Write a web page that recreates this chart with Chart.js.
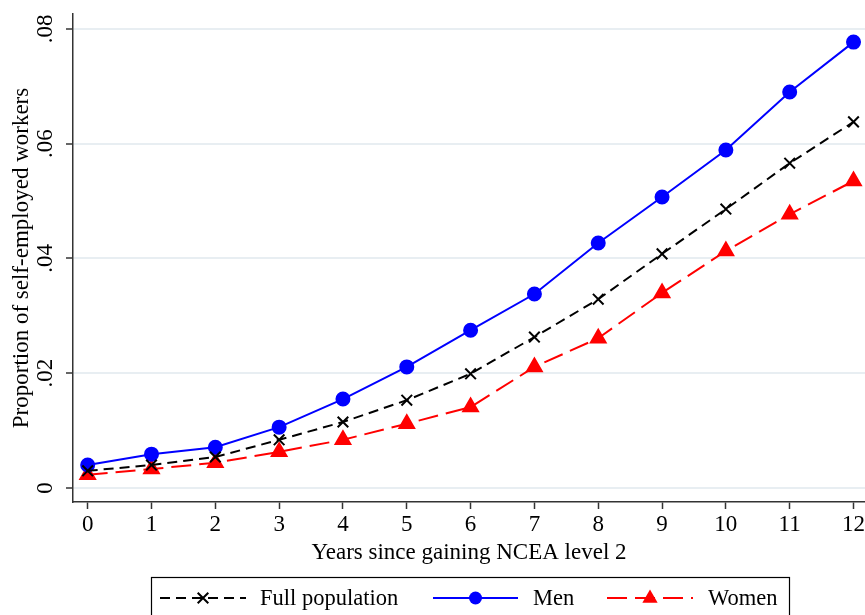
<!DOCTYPE html>
<html>
<head>
<meta charset="utf-8">
<script src="https://cdn.jsdelivr.net/npm/chart.js@4/dist/chart.umd.min.js"></script>
<style>
  body { margin: 0; background: #fff; }
  #wrap { width: 865px; height: 615px; }
</style>
</head>
<body>
<div id="wrap"><canvas id="chart" width="865" height="615"></canvas></div>
<script>
const years = [0, 1, 2, 3, 4, 5, 6, 7, 8, 9, 10, 11, 12];
const fullPop = [0.0030, 0.0040, 0.0054, 0.0084, 0.0115, 0.0153, 0.0199, 0.0263, 0.0329, 0.0408, 0.0486, 0.0566, 0.0638];
const men = [0.0040, 0.0059, 0.0071, 0.0106, 0.0155, 0.0211, 0.0275, 0.0338, 0.0427, 0.0507, 0.0589, 0.0690, 0.0777];
const women = [0.0023, 0.0033, 0.0044, 0.0063, 0.0084, 0.0112, 0.0141, 0.0211, 0.0261, 0.0340, 0.0413, 0.0477, 0.0535];
const yTicks = [0, 0.02, 0.04, 0.06, 0.08];
const xTicks = years;

const serif = "'Liberation Serif', 'Times New Roman', serif";
const axisColor = "#333";
const fontSize = 23;

const toPoints = (vals) => years.map((x, i) => ({ x, y: vals[i] }));

const series = [
  { label: "Full population", data: fullPop, color: "#000", dash: [10, 6], point: "crossRot", radius: 7.5 },
  { label: "Men", data: men, color: "#0000ff", dash: [], point: "circle", radius: 6.5 },
  { label: "Women", data: women, color: "#ff0000", dash: [20, 8], point: "triangle", radius: 8.5 },
];

// draws one marker the same way the datasets do
const drawMarker = (ctx, s, x, y) => {
  ctx.save();
  ctx.setLineDash([]);
  ctx.fillStyle = s.color;
  ctx.strokeStyle = s.color;
  ctx.lineWidth = 2;
  ctx.beginPath();
  if (s.point === "circle") {
    ctx.arc(x, y, s.radius, 0, Math.PI * 2);
    ctx.fill();
  } else if (s.point === "triangle") {
    const r = s.radius;
    ctx.moveTo(x, y - r);
    ctx.lineTo(x + r * 0.9, y + r * 0.55);
    ctx.lineTo(x - r * 0.9, y + r * 0.55);
    ctx.closePath();
    ctx.fill();
  } else {
    const d = s.radius * Math.SQRT1_2;
    ctx.moveTo(x - d, y - d);
    ctx.lineTo(x + d, y + d);
    ctx.moveTo(x + d, y - d);
    ctx.lineTo(x - d, y + d);
    ctx.stroke();
  }
  ctx.restore();
};

// boxed legend under the x axis title
const boxLegend = {
  id: "boxLegend",
  afterDraw(chart) {
    const ctx = chart.ctx;
    ctx.save();
    ctx.strokeStyle = "#000";
    ctx.lineWidth = 1.2;
    ctx.strokeRect(151.5, 577.5, 638, 60);
    const y = 598;
    const entries = [
      { x0: 160, x1: 246, text: 260 },
      { x0: 433, x1: 518, text: 533 },
      { x0: 607, x1: 693, text: 708 },
    ];
    series.forEach((s, i) => {
      const e = entries[i];
      ctx.strokeStyle = s.color;
      ctx.lineWidth = 2;
      ctx.setLineDash(s.dash);
      ctx.beginPath();
      ctx.moveTo(e.x0, y);
      ctx.lineTo(e.x1, y);
      ctx.stroke();
      drawMarker(ctx, s, (e.x0 + e.x1) / 2, y);
      ctx.setLineDash([]);
      ctx.fillStyle = "#000";
      ctx.font = "22.5px " + serif;
      ctx.textBaseline = "middle";
      ctx.textAlign = "left";
      ctx.fillText(s.label, e.text, y + 1);
    });
    ctx.restore();
  },
};

new Chart(document.getElementById("chart"), {
  type: "line",
  data: {
    datasets: series.map((s) => ({
      label: s.label,
      data: toPoints(s.data),
      borderColor: s.color,
      backgroundColor: s.color,
      borderWidth: 2,
      borderDash: s.dash,
      pointStyle: s.point,
      pointRadius: s.radius,
      pointBorderWidth: 2,
      pointBorderColor: s.color,
      pointBackgroundColor: s.color,
      tension: 0,
      clip: false,
    })),
  },
  options: {
    responsive: false,
    animation: false,
    layout: { autoPadding: false, padding: { top: 14, right: 0, left: 0, bottom: 48 } },
    plugins: { legend: { display: false }, tooltip: { enabled: false } },
    scales: {
      x: {
        type: "linear",
        min: -0.23,
        max: 12.18,
        afterFit: (s) => {
          s.height = 65;
          s.paddingLeft = 0;
          s.paddingRight = 0;
        },
        afterBuildTicks: (s) => { s.ticks = xTicks.map((v) => ({ value: v })); },
        border: { color: axisColor, width: 1.5 },
        grid: { drawOnChartArea: false, tickLength: 7, tickColor: axisColor, tickWidth: 1.5 },
        ticks: { color: "#000", font: { family: serif, size: fontSize }, padding: 2, maxRotation: 0, autoSkip: false },
        title: {
          display: true,
          text: "Years since gaining NCEA level 2",
          color: "#000",
          font: { family: serif, size: fontSize },
          padding: { top: 0, bottom: 0 },
        },
      },
      y: {
        min: -0.00244,
        max: 0.0826,
        afterFit: (s) => {
          s.width = 73;
          s.paddingTop = 0;
          s.paddingBottom = 0;
        },
        afterBuildTicks: (s) => { s.ticks = yTicks.map((v) => ({ value: v })); },
        border: { color: axisColor, width: 1.5 },
        grid: { color: "#e8eef2", lineWidth: 2, tickLength: 7, tickColor: axisColor, tickWidth: 1.5 },
        ticks: {
          color: "#000",
          font: { family: serif, size: fontSize },
          minRotation: 90,
          maxRotation: 90,
          crossAlign: "center",
          padding: 6,
          callback: (v) => (v === 0 ? "0" : v.toFixed(2).replace(/^0/, "")),
        },
        title: {
          display: true,
          text: "Proportion of self-employed workers",
          color: "#000",
          font: { family: serif, size: fontSize },
          padding: { top: 8, bottom: 0 },
        },
      },
    },
  },
  plugins: [boxLegend],
});
</script>
</body>
</html>
